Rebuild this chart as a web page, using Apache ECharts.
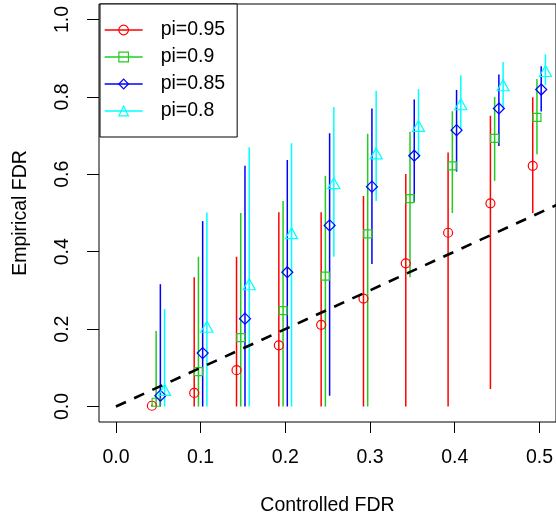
<!DOCTYPE html>
<html>
<head>
<meta charset="utf-8">
<script src="https://cdn.jsdelivr.net/npm/echarts@6/dist/echarts.min.js"></script>
<style>
  html, body { margin: 0; padding: 0; background: #fff; }
  #chart { width: 556px; height: 521px; }
</style>
</head>
<body>
<div id="chart"></div>
<script>
var fdrLevels = [0.05, 0.1, 0.15, 0.2, 0.25, 0.3, 0.35, 0.4, 0.45, 0.5];
var piNames = ['pi=0.95', 'pi=0.9', 'pi=0.85', 'pi=0.8'];
var xShift = [-0.0075, -0.0025, 0.0025, 0.0075];

// mean empirical FDR per pi
var meanPi95 = [0.002, 0.035, 0.094, 0.158, 0.211, 0.279, 0.370, 0.449, 0.525, 0.622];
var meanPi90 = [0.011, 0.090, 0.178, 0.248, 0.337, 0.446, 0.537, 0.622, 0.693, 0.747];
var meanPi85 = [0.028, 0.138, 0.227, 0.347, 0.468, 0.568, 0.648, 0.714, 0.770, 0.819];
var meanPi80 = [0.043, 0.206, 0.316, 0.448, 0.577, 0.654, 0.725, 0.781, 0.830, 0.867];

// error bar bounds
var lowPi95 = [0, 0, 0, 0, 0, 0, 0, 0, 0.045, 0.500];
var highPi95 = [0.005, 0.334, 0.387, 0.502, 0.502, 0.544, 0.601, 0.656, 0.751, 0.799];
var lowPi90 = [0, 0, 0, 0, 0, 0, 0.334, 0.500, 0.583, 0.652];
var highPi90 = [0.195, 0.387, 0.500, 0.531, 0.596, 0.705, 0.710, 0.763, 0.800, 0.846];
var lowPi85 = [0, 0, 0, 0, 0.028, 0.368, 0.529, 0.607, 0.673, 0.762];
var highPi85 = [0.316, 0.479, 0.622, 0.637, 0.706, 0.770, 0.793, 0.818, 0.858, 0.879];
var lowPi80 = [0, 0, 0, 0, 0.387, 0.531, 0.641, 0.715, 0.766, 0.830];
var highPi80 = [0.252, 0.501, 0.670, 0.680, 0.774, 0.816, 0.820, 0.856, 0.890, 0.910];

var xTicks = [0, 0.1, 0.2, 0.3, 0.4, 0.5];
var yTicks = [0, 0.2, 0.4, 0.6, 0.8, 1.0];

var means = [meanPi95, meanPi90, meanPi85, meanPi80];
var lows = [lowPi95, lowPi90, lowPi85, lowPi80];
var highs = [highPi95, highPi90, highPi85, highPi80];
var colors = ['#ff0000', '#22cc22', '#0000ff', '#00ffff'];
var symbols = ['circle', 'rect', 'diamond', 'triangle'];
var symbolSizes = [9, 8, 11, [12, 11]];

var font = "'Liberation Sans', Arial, sans-serif";
var fontSize = 19.5;

var chartDom = document.getElementById('chart');
var chart = echarts.init(chartDom);

var series = [];
// error bars
for (var s = 0; s < 4; s++) {
    var barData = [];
    for (var i = 0; i < fdrLevels.length; i++) {
        barData.push([fdrLevels[i] + xShift[s], lows[s][i], highs[s][i]]);
    }
    series.push({
        type: 'custom',
        xAxisIndex: 0,
        yAxisIndex: 0,
        silent: true,
        data: barData,
        renderItem: (function (col) {
            return function (params, api) {
                var p0 = api.coord([api.value(0), api.value(1)]);
                var p1 = api.coord([api.value(0), api.value(2)]);
                return {
                    type: 'line',
                    shape: { x1: p0[0], y1: p0[1], x2: p1[0], y2: p1[1] },
                    style: { stroke: col, lineWidth: 1.5 }
                };
            };
        })(colors[s])
    });
}
// points (line series with invisible connecting line, so legend shows line + symbol)
for (var s = 0; s < 4; s++) {
    var pts = [];
    for (var i = 0; i < fdrLevels.length; i++) {
        pts.push([fdrLevels[i] + xShift[s], means[s][i]]);
    }
    series.push({
        name: piNames[s],
        type: 'line',
        xAxisIndex: 0,
        yAxisIndex: 0,
        data: pts,
        symbol: symbols[s],
        symbolSize: symbolSizes[s],
        showSymbol: true,
        silent: true,
        z: 3,
        lineStyle: { width: 0, color: colors[s] },
        itemStyle: { color: 'rgba(0,0,0,0)', borderColor: colors[s], borderWidth: 1.2 },
        emphasis: { disabled: true }
    });
}
// reference line y = x
series.push({
    type: 'line',
    xAxisIndex: 0,
    yAxisIndex: 0,
    data: [[0, 0], [0.6, 0.6]],
    symbol: 'none',
    silent: true,
    z: 4,
    lineStyle: { color: '#000', width: 2.6, type: [11, 9] }
});

var hiddenAxis = {
    axisLine: { show: false }, axisTick: { show: false }, axisLabel: { show: false }, splitLine: { show: false }
};

var option = {
    animation: false,
    backgroundColor: '#fff',
    textStyle: { fontFamily: font, color: '#000' },
    grid: [
        // plotting frame (data range padded like R)
        { left: 99, top: 4, width: 458, height: 418, show: true, borderColor: '#000', borderWidth: 1, backgroundColor: 'transparent' },
        // y tick grid: spans 0..1 vertically, sits on the frame's left edge
        { left: 99, top: 19.5, width: 458, height: 387.04 },
        // x tick grid: spans 0..0.5 horizontally, sits on the frame's bottom edge
        { left: 115.96, top: 4, width: 424.05, height: 418 }
    ],
    xAxis: [
        echarts.util.merge({
            type: 'value', gridIndex: 0, min: -0.02, max: 0.52,
            name: 'Controlled FDR', nameLocation: 'middle', nameGap: 74,
            nameTextStyle: { fontFamily: font, fontSize: fontSize, color: '#000' }
        }, hiddenAxis),
        echarts.util.merge({ type: 'value', gridIndex: 1, min: 0, max: 1 }, hiddenAxis),
        {
            type: 'value', gridIndex: 2, min: xTicks[0], max: xTicks[xTicks.length - 1], interval: 0.1,
            axisLine: { show: false },
            axisTick: { show: true, length: 11, lineStyle: { color: '#000', width: 1 } },
            axisLabel: { margin: 26, fontFamily: font, fontSize: fontSize, color: '#000',
                formatter: function (v) { return v.toFixed(1); } },
            splitLine: { show: false }
        }
    ],
    yAxis: [
        echarts.util.merge({
            type: 'value', gridIndex: 0, min: -0.04, max: 1.04,
            name: 'Empirical FDR', nameLocation: 'middle', nameGap: 68, nameRotate: 90,
            nameTextStyle: { fontFamily: font, fontSize: fontSize, color: '#000' }
        }, hiddenAxis),
        {
            type: 'value', gridIndex: 1, min: yTicks[0], max: yTicks[yTicks.length - 1], interval: 0.2,
            axisLine: { show: false },
            axisTick: { show: true, length: 12, lineStyle: { color: '#000', width: 1 } },
            axisLabel: { rotate: 90, margin: 26, fontFamily: font, fontSize: fontSize, color: '#000',
                formatter: function (v) { return v.toFixed(1); } },
            splitLine: { show: false }
        },
        echarts.util.merge({ type: 'value', gridIndex: 2, min: 0, max: 1 }, hiddenAxis)
    ],
    legend: {
        orient: 'vertical',
        left: 100,
        top: 4,
        data: piNames,
        selectedMode: false,
        backgroundColor: '#fff',
        borderColor: '#000',
        borderWidth: 1,
        padding: [16, 12, 16, 4],
        itemGap: 7,
        itemWidth: 38,
        itemHeight: 12,
        lineStyle: { width: 1.3 },
        itemStyle: { borderWidth: 1.2 },
        textStyle: { fontFamily: font, fontSize: fontSize, color: '#000', padding: [0, 0, 0, 13] }
    },
    series: series
};

chart.setOption(option);
</script>
</body>
</html>
